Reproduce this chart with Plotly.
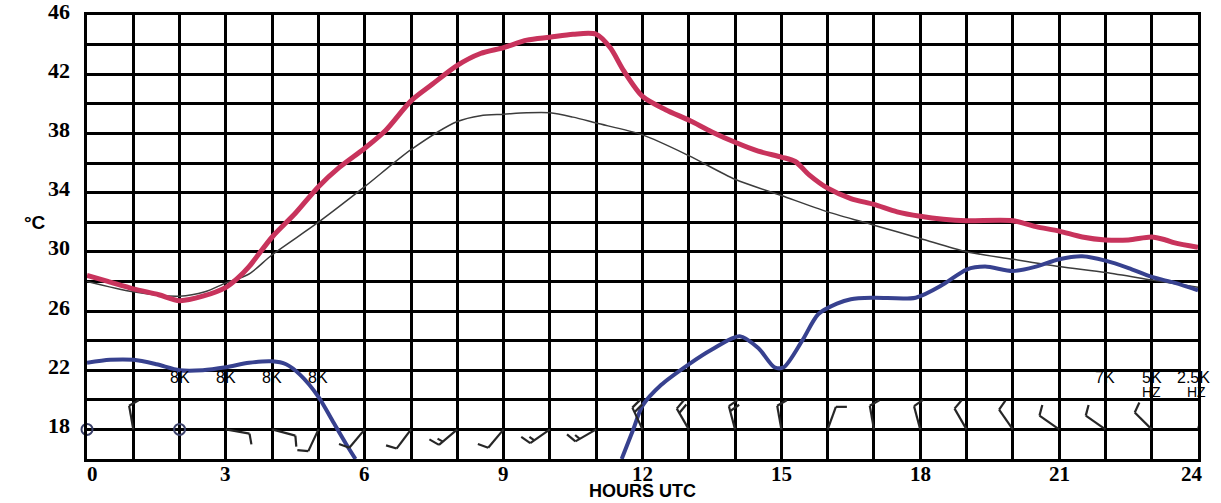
import numpy as np
import plotly.graph_objects as go

# ---- data -------------------------------------------------------------
temp_hours = [0, 0.45, 1, 1.55, 2, 2.5, 3, 3.25, 3.5, 4, 4.5, 5, 5.45, 6, 6.45, 7, 7.45, 8,
              8.5, 9, 9.5, 10, 10.5, 11, 11.3, 11.6, 12, 12.5, 13, 13.5, 14, 14.5, 15,
              15.3, 15.6, 16, 16.5, 17, 17.5, 18, 18.5, 19, 20, 20.5, 21, 21.5, 22,
              22.5, 23, 23.3, 23.5, 24]
temp_values = [28.4, 28.0, 27.5, 27.1, 26.7, 27.0, 27.6, 28.2, 29.0, 31.0, 32.6, 34.4, 35.7,
               37.0, 38.2, 40.2, 41.3, 42.6, 43.4, 43.8, 44.3, 44.5, 44.7, 44.7, 43.8, 42.2,
               40.5, 39.6, 38.9, 38.1, 37.4, 36.8, 36.4, 36.1, 35.2, 34.3, 33.6, 33.2, 32.7,
               32.4, 32.2, 32.1, 32.1, 31.7, 31.4, 31.0, 30.8, 30.8, 31.0, 30.8, 30.6, 30.3]

normal_hours = [0, 1, 2, 2.55, 3, 3.5, 4, 5, 6, 7, 8, 8.5, 9, 9.5, 10, 10.5, 11, 12, 13, 14,
                15, 16, 17, 18, 19, 20, 21, 22, 23, 24]
normal_values = [28.0, 27.3, 27.0, 27.3, 27.9, 28.5, 29.8, 32.0, 34.4, 36.9, 38.8, 39.2, 39.3,
                 39.4, 39.4, 39.1, 38.7, 37.9, 36.5, 34.9, 33.8, 32.7, 31.8, 30.9, 30.0, 29.5,
                 29.0, 28.6, 28.1, 27.6]

dew_hours = [0, 0.5, 1, 1.5, 2, 2.5, 3, 3.5, 4, 4.3, 4.6, 5, 5.3, 5.6, 5.8, None,
             11.55, 11.8, 12, 12.4, 13, 13.5, 14.1, 14.5, 14.85, 15.05, 15.45, 15.8, 16.2,
             16.5, 17, 17.9, 18.5, 19, 19.4, 20, 20.5, 21, 21.5, 22, 22.5, 23, 23.5, 24]
dew_values = [22.5, 22.7, 22.7, 22.4, 22.0, 22.0, 22.2, 22.5, 22.6, 22.4, 21.7, 20.2, 18.6,
              17.0, 16.0, None,
              16.0, 18.0, 19.6, 21.0, 22.4, 23.4, 24.3, 23.5, 22.2, 22.2, 24.0, 25.8, 26.5,
              26.8, 26.9, 26.9, 27.8, 28.8, 29.0, 28.7, 29.0, 29.5, 29.7, 29.4, 28.9, 28.3,
              27.9, 27.4]

wind_hours = list(range(25))
wind_dir = [0, 350, 0, 100, 105, 205, 220, 217, 230, 220, 235, 240, 335, 330, 345, 350,
            20, 350, 345, 330, 325, 305, 305, 315, 15]
wind_speed = [0, 10, 0, 10, 10, 10, 10, 10, 15, 10, 15, 15, 20, 20, 20, 10, 10, 10, 10, 10,
              10, 10, 10, 10, 10]
wind_level = 18

vis_hours = [2, 3, 4, 5, 22, 23, 24]
vis_text = ["8K", "8K", "8K", "8K", "7K", "5K", "2.5K"]
wx_hours = [23, 24]
wx_text = ["HZ", "HZ"]

hour_ticks = list(range(0, 25, 3))
temp_ticks = [18, 22, 26, 30, 34, 38, 42, 46]

# ---- geometry ---------------------------------------------------------
FIG_W, FIG_H = 1221, 503
M_L, M_R, M_T, M_B = 87, 23, 15, 44
X_RANGE = (0, 24)
Y_RANGE = (16, 46)
PLOT_W = FIG_W - M_L - M_R
PLOT_H = FIG_H - M_T - M_B
px_per_hour = PLOT_W / (X_RANGE[1] - X_RANGE[0])
px_per_deg = PLOT_H / (Y_RANGE[1] - Y_RANGE[0])

STAFF = 24      # staff length, px
BARB = 11       # full barb length, px
SPACING = 5     # distance between barbs, px
TILT = np.radians(20)


def barb_path(h, y0, direction, speed):
    """Line segments (data coords) of a wind barb with its station at (h, y0)."""
    th = np.radians(direction)
    u = np.array([np.sin(th), np.cos(th)])
    r = np.array([np.cos(th), -np.sin(th)])
    tick_dir = np.cos(TILT) * r + np.sin(TILT) * u
    pts = [[np.zeros(2), u * STAFF]]
    n_full = int(speed // 10)
    half = (speed % 10) >= 5
    k = 0
    for _ in range(n_full):
        base = u * (STAFF - k * SPACING)
        pts.append([base, base + tick_dir * BARB])
        k += 1
    if half:
        base = u * (STAFF - k * SPACING)
        pts.append([base, base + tick_dir * BARB * 0.55])
    xs, ys = [], []
    for a, b in pts:
        xs += [h + a[0] / px_per_hour, h + b[0] / px_per_hour, None]
        ys += [y0 + a[1] / px_per_deg, y0 + b[1] / px_per_deg, None]
    return xs, ys


bx, by, calm_x, calm_y = [], [], [], []
for h, d, s in zip(wind_hours, wind_dir, wind_speed):
    if s == 0:
        calm_x.append(h)
        calm_y.append(wind_level)
        continue
    xs, ys = barb_path(h, wind_level, d, s)
    bx += xs
    by += ys

# ---- figure -----------------------------------------------------------
fig = go.Figure()

fig.add_trace(go.Scatter(x=normal_hours, y=normal_values, mode="lines",
                         line=dict(color="#3c3c3c", width=1.5, shape="spline", smoothing=0.8),
                         hoverinfo="skip"))
fig.add_trace(go.Scatter(x=temp_hours, y=temp_values, mode="lines",
                         line=dict(color="#c8335c", width=5, shape="spline", smoothing=0.8),
                         hoverinfo="skip"))
fig.add_trace(go.Scatter(x=dew_hours, y=dew_values, mode="lines", connectgaps=False,
                         line=dict(color="#37418f", width=4, shape="spline", smoothing=0.8),
                         hoverinfo="skip"))
fig.add_trace(go.Scatter(x=bx, y=by, mode="lines",
                         line=dict(color="#262626", width=2.2), hoverinfo="skip",
                         cliponaxis=False))
fig.add_trace(go.Scatter(x=calm_x, y=calm_y, mode="markers",
                         marker=dict(symbol="circle-open", size=11, color="#3a4068",
                                     line=dict(width=2)),
                         hoverinfo="skip", cliponaxis=False))

annotations = []
for h, t in zip(vis_hours, vis_text):
    annotations.append(dict(x=h, y=21.5, xref="x", yref="y", text=t, showarrow=False,
                            font=dict(family="Liberation Sans", size=16, color="black"),
                            xshift=-5 if h == 24 else 0))
for h, t in zip(wx_hours, wx_text):
    annotations.append(dict(x=h, y=20.5, xref="x", yref="y", text=t, showarrow=False,
                            font=dict(family="Liberation Sans", size=14, color="black"),
                            xshift=-2 if h == 24 else 0))
for v in temp_ticks:
    annotations.append(dict(x=0, y=v, xref="paper", yref="y", text=f"<b>{v}</b>",
                            showarrow=False, xanchor="right", xshift=-15, yshift=4,
                            font=dict(family="Liberation Serif", size=22, color="black")))
for h in hour_ticks:
    shift = 5 if h == X_RANGE[0] else (-6 if h == X_RANGE[1] else 0)
    annotations.append(dict(x=h, y=0, xref="x", yref="paper", text=f"<b>{h}</b>",
                            showarrow=False, yanchor="top", yshift=-2, xshift=shift,
                            borderpad=0,
                            font=dict(family="Liberation Serif", size=21, color="black")))
annotations.append(dict(x=(22 - M_L) / PLOT_W, y=(FIG_H - M_B - 222) / PLOT_H,
                        xref="paper", yref="paper", text="<b>°C</b>", showarrow=False,
                        font=dict(family="Liberation Sans", size=19, color="black")))
annotations.append(dict(x=12, y=0, xref="x", yref="paper", text="<b>HOURS UTC</b>",
                        showarrow=False, yanchor="top", yshift=-21, borderpad=0,
                        font=dict(family="Liberation Sans", size=18, color="black")))

fig.update_xaxes(range=list(X_RANGE), tickvals=list(range(25)), showticklabels=False,
                 showgrid=True, gridcolor="black", gridwidth=2.5, zeroline=False,
                 showline=True, linecolor="black", linewidth=3, mirror=True, ticks="")
fig.update_yaxes(range=list(Y_RANGE), tickvals=list(range(16, 47, 2)), showticklabels=False,
                 showgrid=True, gridcolor="black", gridwidth=2.5, zeroline=False,
                 showline=True, linecolor="black", linewidth=3, mirror=True, ticks="")

fig.update_layout(width=FIG_W, height=FIG_H, showlegend=False,
                  margin=dict(l=M_L, r=M_R, t=M_T, b=M_B),
                  paper_bgcolor="white", plot_bgcolor="white",
                  annotations=annotations)

fig.write_html("out.html")
